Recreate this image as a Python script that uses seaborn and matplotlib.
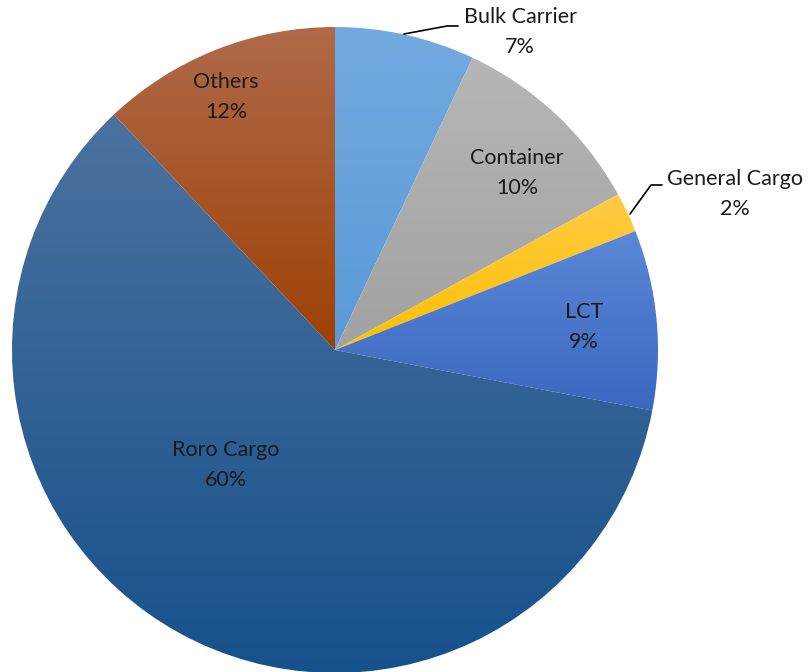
import numpy as np
import matplotlib
matplotlib.use("Agg")
import matplotlib.pyplot as plt
import seaborn as sns
from matplotlib.colors import LinearSegmentedColormap

categories = ["Bulk Carrier", "Container", "General Cargo", "LCT", "Roro Cargo", "Others"]
shares = [7, 10, 2, 9, 60, 12]
pct_labels = ["7%", "10%", "2%", "9%", "60%", "12%"]
top_colors = ["#72aadf", "#b6b6b6", "#ffcb45", "#5b87d6", "#4b729f", "#b06a4a"]
bottom_colors = ["#5a9ad8", "#a2a2a2", "#ffbf00", "#3b68c0", "#17518b", "#9e4004"]

sns.set_style("white")
plt.rcParams['font.family'] = ['Lato', 'DejaVu Sans']

W, H = 811, 672
CX, CY, R = 335, 350, 323

fig = plt.figure(figsize=(W / 100, H / 100), dpi=100)
ax = fig.add_axes([0, 0, 1, 1])

wedges, _ = ax.pie(shares, startangle=90, counterclock=False, radius=1.0,
                   colors=bottom_colors, wedgeprops=dict(linewidth=0))

grad = np.linspace(0, 1, 256).reshape(-1, 1)
for w, ct, cb in zip(wedges, top_colors, bottom_colors):
    bb = w.get_path().get_extents(w.get_transform() - ax.transData)
    cmap = LinearSegmentedColormap.from_list("g", [ct, cb])
    im = ax.imshow(grad, cmap=cmap, aspect="auto", origin="upper",
                   extent=[bb.x0, bb.x1, bb.y0, bb.y1], zorder=2)
    im.set_clip_path(w)
    w.set_facecolor("none")
ax.set_aspect("auto")
ax.set_xlim(-CX / R, (W - CX) / R)
ax.set_ylim(-(H - CY) / R, CY / R)
ax.axis("off")

def d(px, py):
    return (px - CX) / R, (CY - py) / R

label_pos = {
    "Bulk Carrier": (520, 32),
    "Container": (517, 173),
    "General Cargo": (735, 194),
    "LCT": (584, 327),
    "Roro Cargo": (226, 465),
    "Others": (226, 97),
}
fs = 15.5
for cat, pct in zip(categories, pct_labels):
    px, py = label_pos[cat]
    x, y = d(px, py)
    ax.text(x, y, f"{cat}\n{pct}", ha="center", va="center", fontsize=fs,
            color="#1a1a1a", linespacing=1.65, zorder=5)

# leader lines
for pts in ([(404, 34), (447, 26), (458, 26)], [(630, 214), (651, 185), (662, 185)]):
    xs, ys = zip(*[d(*p) for p in pts])
    ax.plot(xs, ys, color="black", lw=1.2, zorder=5)

fig.savefig("out.png", dpi=100)
